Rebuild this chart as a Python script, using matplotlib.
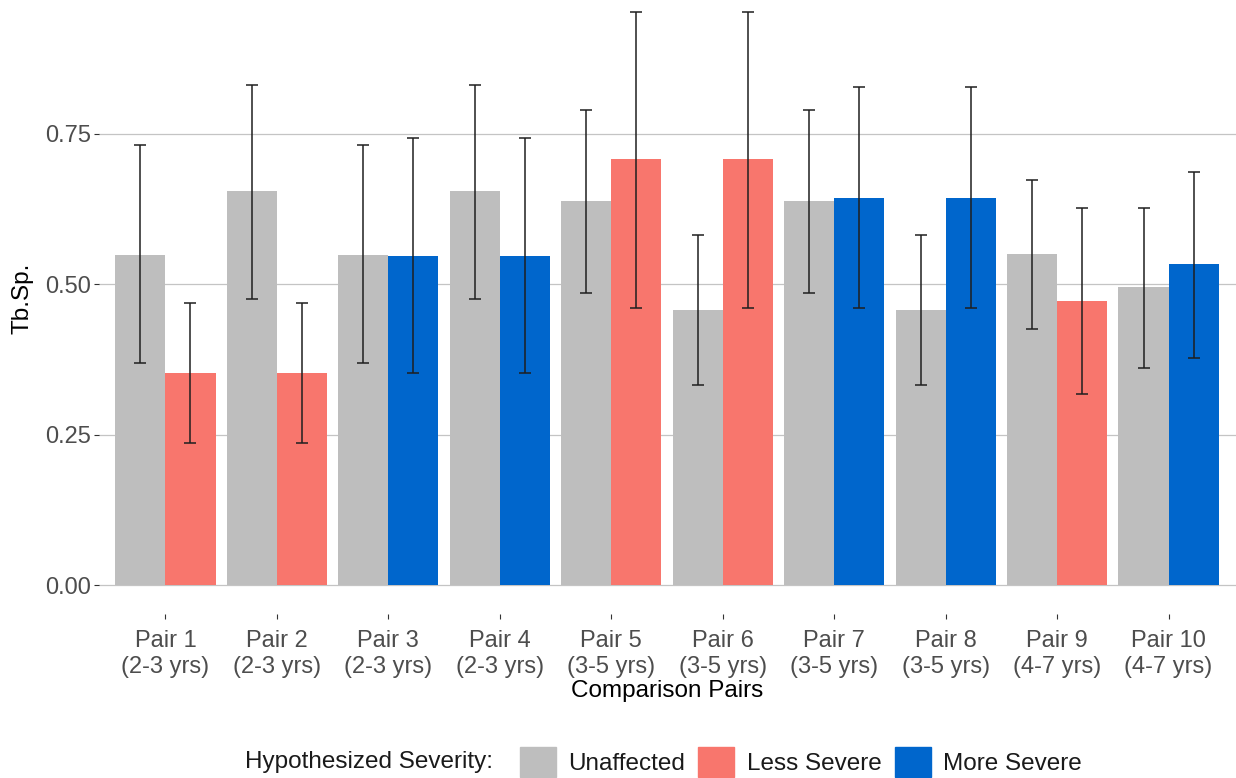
import numpy as np
import matplotlib
matplotlib.use('Agg')
import matplotlib.pyplot as plt
import matplotlib.patches as mpatches

plt.rcParams['font.family'] = ['Liberation Sans', 'DejaVu Sans']

# comparison pairs (tick labels)
pairs = ['Pair 1\n(2-3 yrs)', 'Pair 2\n(2-3 yrs)', 'Pair 3\n(2-3 yrs)', 'Pair 4\n(2-3 yrs)',
         'Pair 5\n(3-5 yrs)', 'Pair 6\n(3-5 yrs)', 'Pair 7\n(3-5 yrs)', 'Pair 8\n(3-5 yrs)',
         'Pair 9\n(4-7 yrs)', 'Pair 10\n(4-7 yrs)']

# unaffected member of each pair: Tb.Sp. mean and interval
unaffected_mean = [0.549, 0.654, 0.549, 0.654, 0.638, 0.457, 0.638, 0.457, 0.550, 0.495]
unaffected_lo   = [0.369, 0.475, 0.369, 0.475, 0.486, 0.333, 0.486, 0.333, 0.425, 0.361]
unaffected_hi   = [0.731, 0.831, 0.731, 0.831, 0.789, 0.582, 0.789, 0.582, 0.673, 0.626]

# affected member of each pair
affected_sev  = ['Less Severe', 'Less Severe', 'More Severe', 'More Severe', 'Less Severe',
                 'Less Severe', 'More Severe', 'More Severe', 'Less Severe', 'More Severe']
affected_mean = [0.353, 0.353, 0.547, 0.547, 0.707, 0.707, 0.643, 0.643, 0.472, 0.533]
affected_lo   = [0.236, 0.236, 0.353, 0.353, 0.461, 0.461, 0.461, 0.461, 0.317, 0.378]
affected_hi   = [0.468, 0.468, 0.743, 0.743, 0.952, 0.952, 0.828, 0.828, 0.626, 0.687]

severity_levels = ['Unaffected', 'Less Severe', 'More Severe']
severity_rgb = {'Unaffected': '#BEBEBE', 'Less Severe': '#F8766D', 'More Severe': '#0066CC'}

W, H = 1236, 778
FS_TICK = 17
FS_TITLE = 17.5
TICK_GREY = '#4D4D4D'


def draw_pairs(ax, x, mean, lo, hi, colors, offset, width):
  mean = np.asarray(mean)
  yerr = [mean - np.asarray(lo), np.asarray(hi) - mean]
  ax.bar(x + offset, mean, width, color=colors, zorder=2)
  ax.errorbar(x + offset, mean, yerr=yerr, fmt='none', ecolor='#1F1F1F',
              elinewidth=1.1, capsize=4, capthick=1.1, zorder=3)


def main():
  fig = plt.figure(figsize=(W / 100, H / 100), dpi=100)
  # panel spans from just below the bottom tick down to above the top edge
  ax = fig.add_axes([98.5 / W, 1 - 614 / H, (1235.5 - 98.5) / W, 631 / H])

  x = np.arange(1, len(pairs) + 1)
  bw = 0.45
  draw_pairs(ax, x, unaffected_mean, unaffected_lo, unaffected_hi,
             severity_rgb['Unaffected'], -bw / 2, bw)
  draw_pairs(ax, x, affected_mean, affected_lo, affected_hi,
             [severity_rgb[s] for s in affected_sev], bw / 2, bw)

  ax.set_xlim(0.4, len(pairs) + 0.6)
  ax.set_ylim(-0.0476, 1.0)
  ax.set_yticks([0, 0.25, 0.5, 0.75])
  ax.set_yticklabels(['0.00', '0.25', '0.50', '0.75'])
  ax.set_xticks(x)
  ax.set_xticklabels(pairs, linespacing=1.25)

  for s in ax.spines.values():
    s.set_visible(False)
  ax.grid(True, axis='y', color='#C4C4C4', linewidth=0.9, zorder=0)
  ax.set_axisbelow(True)
  ax.tick_params(axis='both', length=3.6, width=0.8, color='#333333',
                 labelsize=FS_TICK, labelcolor=TICK_GREY)
  ax.tick_params(axis='y', pad=2)
  ax.tick_params(axis='x', pad=8)

  ax.set_xlabel('Comparison Pairs', fontsize=FS_TITLE, color='black')
  ax.xaxis.set_label_coords(0.5, -(691 - 614) / 631)
  ax.xaxis.label.set_va('center')
  ax.set_ylabel('Tb.Sp.', fontsize=FS_TITLE, color='black')
  ax.yaxis.set_label_coords(-(98.5 - 23) / (1235.5 - 98.5), 0.5)
  ax.yaxis.label.set_va('center')

  # legend row along the bottom edge
  ly = 1 - 762 / H
  fig.text(493 / W, ly, 'Hypothesized Severity:', ha='right', va='center',
           fontsize=FS_TITLE, color='#1A1A1A')
  handles = [mpatches.Patch(color=severity_rgb[s], label=s) for s in severity_levels]
  key = 36 / (100 / 72) / FS_TITLE
  fig.legend(handles=handles, ncol=3, loc='center left', bbox_to_anchor=(520 / W, ly),
             frameon=False, fontsize=FS_TITLE, borderpad=0, borderaxespad=0,
             handlelength=key, handleheight=key, handletextpad=0.5,
             columnspacing=0.55, labelcolor='#1A1A1A')

  fig.savefig('out.png', dpi=100)


if __name__ == '__main__':
  main()
